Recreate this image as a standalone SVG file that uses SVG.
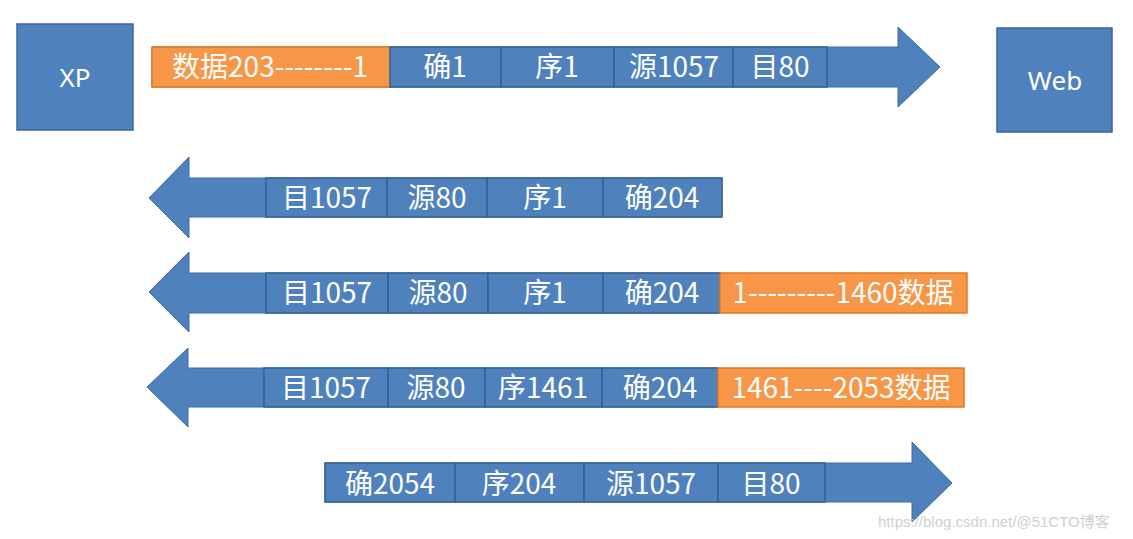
<svg xmlns="http://www.w3.org/2000/svg" width="1133" height="539" viewBox="0 0 1133 539">
<style>
.bg{fill:#ffffff}
.box{fill:#4F81BD;stroke:#3A659A;stroke-width:1.5}
.arrow{fill:#4F81BD;stroke:#3D6CA3;stroke-width:1}
.cell{fill:#4F81BD;stroke:#36608F;stroke-width:1.5}
.data{fill:#F79646;stroke:#E3771F;stroke-width:1.5}
.t{fill:#ffffff;font-family:"Noto Sans CJK SC","Noto Sans",sans-serif;font-size:28px;text-anchor:middle;dominant-baseline:central}
.n{fill:#ffffff;font-family:"Noto Sans","Noto Sans CJK SC",sans-serif;font-size:26px;text-anchor:middle;dominant-baseline:central}
.wm{fill:#d0d0d0;font-family:"Liberation Sans","Noto Sans CJK SC",sans-serif;font-size:15px}
</style>
<rect class="bg" x="0" y="0" width="1133" height="539"/>
<g id="node-xp">
<rect class="box" x="17" y="24" width="116" height="106"/>
<text class="n" x="75" y="77">XP</text>
</g>
<g id="node-web">
<rect class="box" x="997" y="28" width="115" height="104"/>
<text class="n" x="1055" y="80">Web</text>
</g>
<g id="connectors">
<g id="seg1">
<path class="arrow" d="M152,47 H898 V27 L940,67 L898,107 V87 H152 Z"/>
<rect class="data" x="152" y="47" width="238" height="40"/>
<text class="t" x="270" y="65">数据203--------1</text>
<rect class="cell" x="390" y="47" width="111" height="40"/>
<text class="t" x="445" y="65">确1</text>
<rect class="cell" x="501" y="47" width="113" height="40"/>
<text class="t" x="557" y="65">序1</text>
<rect class="cell" x="614" y="47" width="119" height="40"/>
<text class="t" x="674" y="65">源1057</text>
<rect class="cell" x="733" y="47" width="94" height="40"/>
<text class="t" x="780" y="65">目80</text>
</g>
<g id="seg2">
<path class="arrow" d="M722,178 H189 V157 L149,198 L189,238 V217 H722 Z"/>
<rect class="cell" x="266" y="178" width="121" height="39"/>
<text class="t" x="327" y="196">目1057</text>
<rect class="cell" x="387" y="178" width="100" height="39"/>
<text class="t" x="437" y="196">源80</text>
<rect class="cell" x="487" y="178" width="116" height="39"/>
<text class="t" x="545" y="196">序1</text>
<rect class="cell" x="603" y="178" width="119" height="39"/>
<text class="t" x="662" y="196">确204</text>
</g>
<g id="seg3">
<path class="arrow" d="M720,273 H189 V252 L149,292 L189,332 V313 H720 Z"/>
<rect class="cell" x="266" y="273" width="122" height="40"/>
<text class="t" x="327" y="291">目1057</text>
<rect class="cell" x="388" y="273" width="100" height="40"/>
<text class="t" x="438" y="291">源80</text>
<rect class="cell" x="488" y="273" width="115" height="40"/>
<text class="t" x="545" y="291">序1</text>
<rect class="cell" x="603" y="273" width="117" height="40"/>
<text class="t" x="662" y="291">确204</text>
<rect class="data" x="720" y="273" width="247" height="40"/>
<text class="t" x="843" y="291">1---------1460数据</text>
</g>
<g id="seg4">
<path class="arrow" d="M718,368 H188 V348 L147,387 L188,427 V407 H718 Z"/>
<rect class="cell" x="264" y="368" width="124" height="39"/>
<text class="t" x="326" y="386">目1057</text>
<rect class="cell" x="388" y="368" width="97" height="39"/>
<text class="t" x="436" y="386">源80</text>
<rect class="cell" x="485" y="368" width="117" height="39"/>
<text class="t" x="543" y="386">序1461</text>
<rect class="cell" x="602" y="368" width="116" height="39"/>
<text class="t" x="660" y="386">确204</text>
<rect class="data" x="718" y="368" width="246" height="39"/>
<text class="t" x="841" y="386">1461----2053数据</text>
</g>
<g id="seg5">
<path class="arrow" d="M325,463 H912 V442 L952,483 L912,522 V502 H325 Z"/>
<rect class="cell" x="325" y="463" width="130" height="39"/>
<text class="t" x="390" y="482">确2054</text>
<rect class="cell" x="455" y="463" width="129" height="39"/>
<text class="t" x="519" y="482">序204</text>
<rect class="cell" x="584" y="463" width="134" height="39"/>
<text class="t" x="651" y="482">源1057</text>
<rect class="cell" x="718" y="463" width="107" height="39"/>
<text class="t" x="771" y="482">目80</text>
</g>
</g>
<text class="wm" x="878" y="527">https://blog.csdn.net/@51CTO博客</text>
</svg>
